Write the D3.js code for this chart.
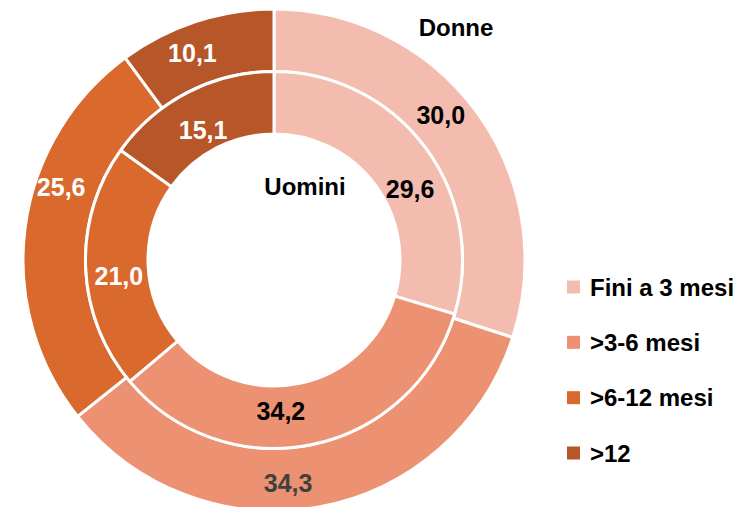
<!DOCTYPE html>
<html>
<head>
<meta charset="utf-8">
<script src="https://cdn.jsdelivr.net/npm/d3@7/dist/d3.min.js"></script>
<style>
  body { margin: 0; background: #fff; }
  text { font-family: "Liberation Sans", Arial, sans-serif; font-weight: bold; }
</style>
</head>
<body>
<div id="chart"></div>
<script>
// categories and values
var categories = ["Fini a 3 mesi", ">3-6 mesi", ">6-12 mesi", ">12"];
var donne = [30.0, 34.3, 25.6, 10.1];
var uomini = [29.6, 34.2, 21.0, 15.1];

var colors = ["#f4bcaf", "#ec9172", "#da692e", "#b75628"];
var donneTextColor = ["#000", "#404040", "#fff", "#fff"];
var uominiTextColor = ["#000", "#000", "#fff", "#fff"];
// Excel does not put the labels on the centroid, nudge them a bit
var donneNudge = [[-11, -16], [-25, 7], [5, -44], [-13, 2]];
var uominiNudge = [[10, 23], [-25, -3], [2, 10], [1, 10]];

var width = 746, height = 507;
var cx = 274, cy = 260;

var svg = d3.select("#chart")
    .append("svg")
      .attr("width", width)
      .attr("height", height);

var g = svg.append("g")
    .attr("transform", "translate(" + cx + "," + cy + ")");

var pie = d3.pie().sort(null).value(function(d) { return d; });

var outerArc = d3.arc().innerRadius(188.5).outerRadius(251);
var innerArc = d3.arc().innerRadius(126).outerRadius(188.5);

function fmt(v) { return v.toFixed(1).replace(".", ","); }

function drawRing(values, arc, textColor, nudge, cls) {
  var slices = pie(values);
  g.selectAll("path." + cls)
      .data(slices)
    .enter().append("path")
      .attr("class", cls)
      .attr("d", arc)
      .attr("fill", function(d, i) { return colors[i]; })
      .attr("stroke", "#fff")
      .attr("stroke-width", 3);

  g.selectAll("text." + cls)
      .data(slices)
    .enter().append("text")
      .attr("class", cls)
      .attr("transform", function(d, i) {
        var c = arc.centroid(d);
        return "translate(" + (c[0] + nudge[i][0]) + "," + (c[1] + nudge[i][1]) + ")";
      })
      .attr("text-anchor", "middle")
      .attr("dy", "0.36em")
      .style("font-size", "25px")
      .attr("fill", function(d, i) { return textColor[i]; })
      .text(function(d) { return fmt(d.data); });
}

drawRing(donne, outerArc, donneTextColor, donneNudge, "donne");
drawRing(uomini, innerArc, uominiTextColor, uominiNudge, "uomini");

// ring titles
svg.append("text")
    .attr("x", 456).attr("y", 27)
    .attr("dy", "0.36em")
    .attr("text-anchor", "middle")
    .style("font-size", "24px")
    .text("Donne");

svg.append("text")
    .attr("x", 305).attr("y", 186)
    .attr("dy", "0.36em")
    .attr("text-anchor", "middle")
    .style("font-size", "24px")
    .text("Uomini");

// legend
var ly = d3.scalePoint().domain(categories).range([287, 453]);

var legend = svg.selectAll("g.legend")
    .data(categories)
  .enter().append("g")
    .attr("class", "legend")
    .attr("transform", function(d) { return "translate(567," + ly(d) + ")"; });

legend.append("rect")
    .attr("x", 0).attr("y", -6.5)
    .attr("width", 13).attr("height", 13)
    .attr("fill", function(d, i) { return colors[i]; });

legend.append("text")
    .attr("x", 23)
    .attr("dy", "0.36em")
    .style("font-size", "24px")
    .attr("fill", "#000")
    .text(function(d) { return d; });
</script>
</body>
</html>
